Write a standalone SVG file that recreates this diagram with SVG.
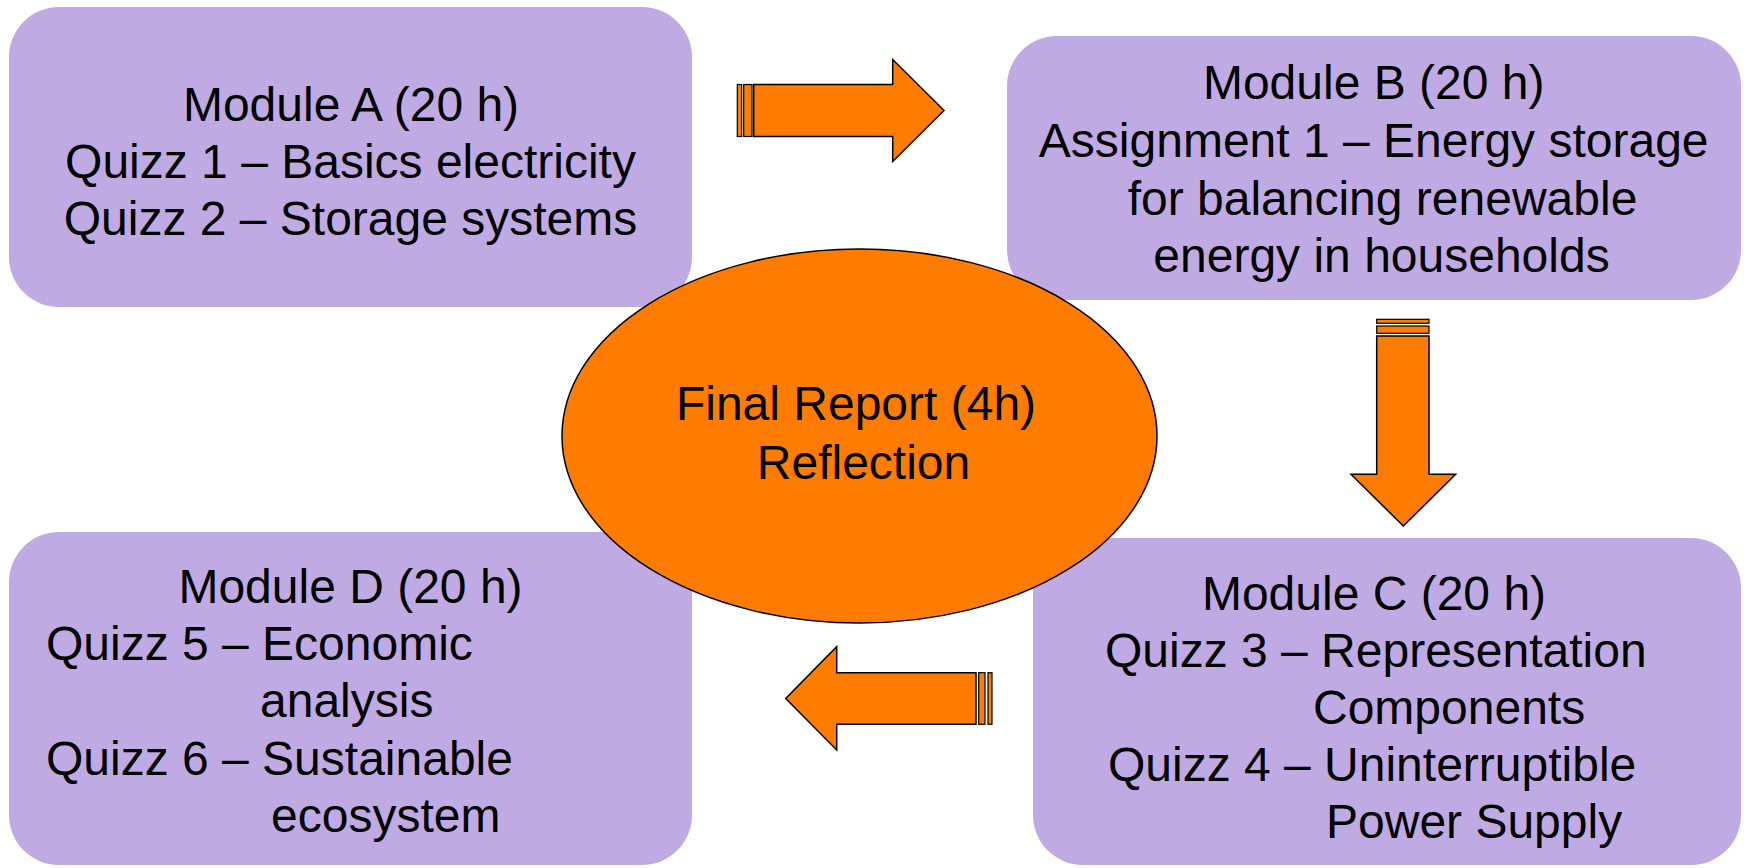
<svg xmlns="http://www.w3.org/2000/svg" width="1744" height="868" viewBox="0 0 1744 868">
<style>
.box{fill:#C0AAE4;stroke:none}
.t{font-family:"Liberation Sans",Arial,sans-serif;font-size:48px;fill:#000}
.m{text-anchor:middle}
.arr{fill:#FF7C00;stroke:#000;stroke-width:1.5;stroke-linejoin:miter}
.str{fill:#FF7C00;stroke:#000;stroke-width:1.2}
</style>
<rect width="1744" height="868" fill="#FFFFFF"/>
<g id="moduleA">
<rect class="box" x="9" y="7" width="683" height="300" rx="50" ry="50"/>
<text class="t m" x="351" y="121">Module A (20 h)</text>
<text class="t m" x="350.5" y="178">Quizz 1 – Basics electricity</text>
<text class="t m" x="350.5" y="235">Quizz 2 – Storage systems</text>
</g>
<g id="moduleB">
<rect class="box" x="1007" y="36" width="734" height="264" rx="50" ry="50"/>
<text class="t m" x="1373.7" y="99">Module B (20 h)</text>
<text class="t m" x="1373.7" y="157">Assignment 1 – Energy storage</text>
<text class="t m" x="1382.5" y="214.5">for balancing renewable</text>
<text class="t m" x="1381.5" y="272">energy in households</text>
</g>
<g id="moduleC">
<rect class="box" x="1033" y="538" width="708" height="327" rx="50" ry="50"/>
<text class="t m" x="1374" y="610">Module C (20 h)</text>
<text class="t" x="1105" y="667">Quizz 3 – Representation</text>
<text class="t" x="1313" y="724">Components</text>
<text class="t" x="1108" y="781">Quizz 4 – Uninterruptible</text>
<text class="t" x="1326" y="838">Power Supply</text>
</g>
<g id="moduleD">
<rect class="box" x="9" y="532" width="683" height="333" rx="50" ry="50"/>
<text class="t m" x="350.5" y="603">Module D (20 h)</text>
<text class="t" x="46" y="660">Quizz 5 – Economic</text>
<text class="t" x="260" y="717">analysis</text>
<text class="t" x="46" y="775">Quizz 6 – Sustainable</text>
<text class="t" x="271" y="832">ecosystem</text>
</g>
<g id="finalReport">
<ellipse cx="859.5" cy="436" rx="297.5" ry="187" fill="#FF7C00" stroke="#000" stroke-width="1.5"/>
<text class="t m" x="856" y="420">Final Report (4h)</text>
<text class="t m" x="863.5" y="479">Reflection</text>
</g>
<g id="connectors">
<g id="arrowAB">
<rect class="str" x="737.3" y="84.5" width="4.4" height="52"/>
<rect class="str" x="743.7" y="84.5" width="8.3" height="52"/>
<path class="arr" d="M753.7 84.5 H892.7 V59.5 L944 110.5 L892.7 161.5 V136.5 H753.7 Z"/>
</g>
<g id="arrowBC">
<rect class="str" x="1376.7" y="319.3" width="52.3" height="4"/>
<rect class="str" x="1376.7" y="326" width="52.3" height="7.3"/>
<path class="arr" d="M1376.7 336 H1429 V474.3 H1455.7 L1403.3 526 L1351 474.3 H1376.7 Z"/>
</g>
<g id="arrowCD">
<rect class="str" x="988" y="672.7" width="4" height="51.6"/>
<rect class="str" x="978.7" y="672.7" width="6.3" height="51.6"/>
<path class="arr" d="M976 672.7 H836.7 V646.7 L785.7 698.5 L836.7 750 V724.3 H976 Z"/>
</g>
</g>
</svg>
